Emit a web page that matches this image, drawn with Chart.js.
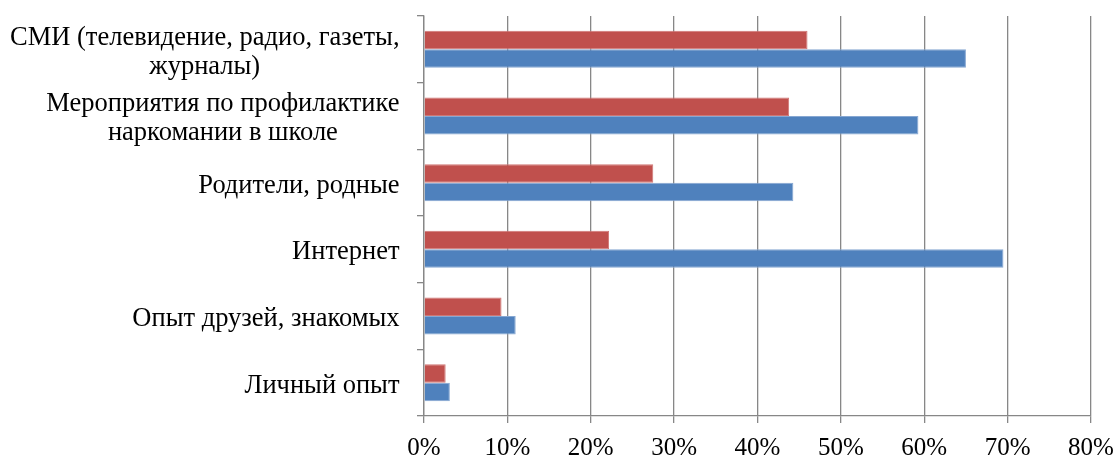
<!DOCTYPE html>
<html>
<head>
<meta charset="utf-8">
<script src="https://cdn.jsdelivr.net/npm/chart.js@4"></script>
<style>
html,body{margin:0;padding:0;background:#fff;}
#wrap{width:1114px;height:457px;position:relative;}
</style>
</head>
<body>
<div id="wrap"><canvas id="c" width="1114" height="457"></canvas></div>
<script>
const categories = [
  ["СМИ (телевидение, радио, газеты,", "журналы)"],
  ["Мероприятия по профилактике", "наркомании в школе"],
  ["Родители, родные"],
  ["Интернет"],
  ["Опыт друзей, знакомых"],
  ["Личный опыт"]
];
const seriesRed = [46, 43.8, 27.5, 22.2, 9.3, 2.6];
const seriesBlue = [65, 59.3, 44.3, 69.5, 11.0, 3.1];
const xTicks = [0, 10, 20, 30, 40, 50, 60, 70, 80];

const FONT = '"Liberation Serif", "Times New Roman", serif';
const GRID = '#878787';

const labelPlugin = {
  id: 'centeredLabels',
  afterDraw(chart) {
    const ctx = chart.ctx;
    const y = chart.scales.y;
    ctx.save();
    ctx.font = '26.5px ' + FONT;
    ctx.fillStyle = '#000';
    ctx.textAlign = 'center';
    ctx.textBaseline = 'middle';
    const rightX = 399.5;
    const lineH = 29;
    categories.forEach((lines, i) => {
      const py = y.getPixelForTick(i);
      let maxW = 0;
      lines.forEach(l => { maxW = Math.max(maxW, ctx.measureText(l).width); });
      const cx = rightX - maxW / 2;
      lines.forEach((l, j) => {
        ctx.fillText(l, cx, py + 3 + (j - (lines.length - 1) / 2) * lineH);
      });
    });
    ctx.restore();
  }
};

new Chart(document.getElementById('c'), {
  type: 'bar',
  data: {
    labels: categories,
    datasets: [
      {
        data: seriesRed,
        backgroundColor: '#C0504D',
        borderColor: '#CF7674',
        borderWidth: 1,
        borderSkipped: 'start',
        categoryPercentage: 0.555,
        barPercentage: 1.0
      },
      {
        data: seriesBlue,
        backgroundColor: '#4F81BD',
        borderColor: '#86A7D2',
        borderWidth: 1,
        borderSkipped: 'start',
        categoryPercentage: 0.555,
        barPercentage: 1.0
      }
    ]
  },
  options: {
    indexAxis: 'y',
    responsive: false,
    animation: false,
    devicePixelRatio: 1,
    layout: { padding: { top: 16, right: 23, left: 0, bottom: 0 } },
    plugins: { legend: { display: false }, tooltip: { enabled: false } },
    scales: {
      x: {
        type: 'linear',
        min: 0,
        max: 80,
        afterBuildTicks(scale) { scale.ticks = xTicks.map(v => ({ value: v })); },
        afterFit(scale) { scale.height = 41; scale.paddingLeft = 0; scale.paddingRight = 0; },
        ticks: {
          callback: v => v + '%',
          color: '#000',
          font: { family: FONT, size: 25 },
          padding: 10,
          maxRotation: 0,
          autoSkip: false
        },
        grid: { color: GRID, lineWidth: 1.3, tickLength: 7, drawTicks: true },
        border: { color: GRID, width: 1.3 }
      },
      y: {
        type: 'category',
        afterFit(scale) { scale.width = 424; scale.paddingTop = 0; scale.paddingBottom = 0; },
        ticks: { display: false },
        grid: { offset: true, drawOnChartArea: false, color: GRID, lineWidth: 1.3, tickLength: 7, drawTicks: true },
        border: { color: GRID, width: 1.3 }
      }
    }
  },
  plugins: [labelPlugin]
});
</script>
</body>
</html>
